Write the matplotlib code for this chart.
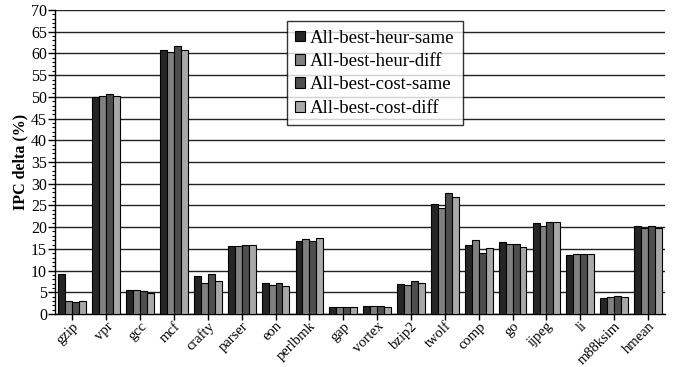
import numpy as np
import matplotlib
matplotlib.use("Agg")
import matplotlib.pyplot as plt
from matplotlib.ticker import MultipleLocator

plt.rcParams['font.family'] = ['Liberation Serif', 'DejaVu Serif']

benchmarks = ["gzip", "vpr", "gcc", "mcf", "crafty", "parser", "eon", "perlbmk",
              "gap", "vortex", "bzip2", "twolf", "comp", "go", "ijpeg", "li",
              "m88ksim", "hmean"]

heur_same = [9.3, 50.0, 5.45, 60.9, 8.75, 15.6, 7.05, 16.9, 1.5, 1.85, 6.8, 25.3,
             16.0, 16.65, 20.95, 13.5, 3.75, 20.35]
heur_diff = [2.9, 50.1, 5.45, 60.4, 7.1, 15.6, 6.6, 17.35, 1.5, 1.85, 6.6, 24.3,
             17.0, 16.1, 20.3, 13.75, 3.9, 19.9]
cost_same = [2.7, 50.65, 5.2, 61.7, 9.2, 15.9, 7.05, 16.8, 1.6, 1.75, 7.5, 27.8,
             14.1, 16.1, 21.3, 13.75, 4.05, 20.2]
cost_diff = [3.0, 50.3, 4.8, 60.7, 7.5, 16.0, 6.4, 17.5, 1.5, 1.6, 7.05, 26.9,
             15.1, 15.4, 21.1, 13.75, 3.9, 19.9]

series = [
    ("All-best-heur-same", heur_same, "#262626"),
    ("All-best-heur-diff", heur_diff, "#808080"),
    ("All-best-cost-same", cost_same, "#4e4e4e"),
    ("All-best-cost-diff", cost_diff, "#a8a8a8"),
]

fig = plt.figure(figsize=(6.73, 3.67), dpi=100)
ax = fig.add_axes([0.0823, 0.1444, 0.9058, 0.8283])

x = np.arange(len(benchmarks))
bw = 0.205
for i, (name, vals, col) in enumerate(series):
    ax.bar(x + (i - 1.5) * bw, vals, width=bw, color=col, edgecolor="black",
           linewidth=0.8, label=name, zorder=3)

ax.set_xlim(-0.5, len(benchmarks) - 0.5)
ax.set_ylim(0, 70)
ax.yaxis.set_major_locator(MultipleLocator(5))
ax.yaxis.set_minor_locator(MultipleLocator(1))
ax.grid(axis="y", which="major", color="#222222", linewidth=1.0, zorder=0)
ax.set_axisbelow(True)

for s in ("top", "right"):
    ax.spines[s].set_visible(False)
ax.spines["left"].set_linewidth(1.0)
ax.spines["bottom"].set_linewidth(1.0)

ax.set_xticks(x)
ax.set_xticklabels(benchmarks, rotation=45, ha="right", rotation_mode="anchor",
                   fontsize=10.5)
ax.tick_params(axis="x", direction="out", length=4, width=1, pad=0)
ax.tick_params(axis="y", which="major", direction="out", length=5, width=1,
               labelsize=11.5, pad=1)
ax.tick_params(axis="y", which="minor", direction="out", length=2.5, width=0.8)

ax.set_ylabel("IPC delta (%)", fontsize=11.5, fontweight="bold", labelpad=2)

leg = ax.legend(loc="upper left", bbox_to_anchor=(0.3795, 0.963), fontsize=13.5,
                frameon=True, fancybox=False, edgecolor="black",
                handlelength=0.5, handleheight=0.5, handletextpad=0.3,
                borderpad=0.45, labelspacing=0.34, borderaxespad=0)
leg.get_frame().set_linewidth(1.0)
leg.set_zorder(5)

fig.savefig("out.png", dpi=100)
